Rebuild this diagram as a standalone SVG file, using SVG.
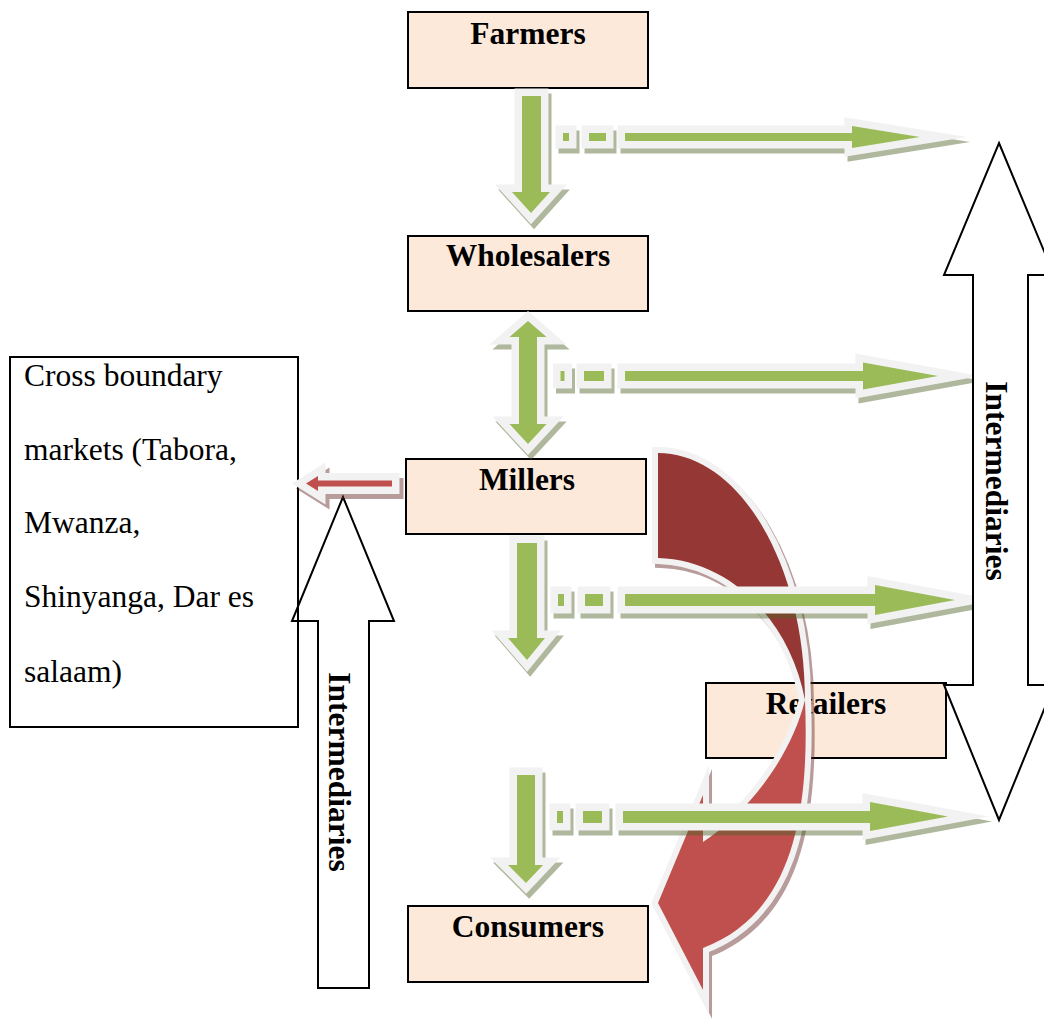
<svg xmlns="http://www.w3.org/2000/svg" width="1044" height="1021" viewBox="0 0 1044 1021">
<defs>
<style>
.node rect{fill:#FDE9D9;stroke:#000;stroke-width:2}
.lbl{font-family:"Liberation Serif","Times New Roman",serif;font-weight:bold;font-size:31.5px;fill:#000;text-anchor:middle}
.txt{font-family:"Liberation Serif","Times New Roman",serif;font-size:31.5px;fill:#000}
.big{stroke:#000;stroke-width:2;stroke-linejoin:miter}
.g{fill:#9BBB59;stroke:#F2F2F2;stroke-width:15;stroke-linejoin:miter;stroke-miterlimit:10;paint-order:stroke}
.gs{fill:#4F6228;stroke:#4F6228;stroke-width:15;stroke-linejoin:miter;stroke-miterlimit:10}
.rs{fill:#632523;stroke:#632523;stroke-width:12;stroke-linejoin:miter;stroke-miterlimit:5.5}
.rb{fill:#953735;stroke:#F2F2F2;stroke-width:12;stroke-linejoin:miter;stroke-miterlimit:5.5;paint-order:stroke}
.rf{fill:#C0504D;stroke:#F2F2F2;stroke-width:12;stroke-linejoin:miter;stroke-miterlimit:5.5;paint-order:stroke}
.sr{fill:#C0504D;stroke:#F2F2F2;stroke-width:15;stroke-linejoin:miter;stroke-miterlimit:10;paint-order:stroke}
.srs{fill:#632523;stroke:#632523;stroke-width:15;stroke-linejoin:miter;stroke-miterlimit:10}
</style>
<g id="greenShapes">
<path d="M522,96 H541 V192 H550 L531,213 L512,192 H522 Z"/>
<rect x="563" y="133" width="6" height="8"/>
<rect x="589" y="133" width="17" height="8"/>
<path d="M625,133 H852 V126 L920,137 L852,148 V141 H625 Z"/>
<path d="M528,321 L546.5,337 H537 V424 H546.5 L528,444 L509.5,424 H519 V337 H509.5 Z"/>
<rect x="560.5" y="371" width="4" height="10"/>
<rect x="584" y="371" width="20" height="10"/>
<path d="M625,371 H863 V362.5 L938,376 L863,389.5 V381 H625 Z"/>
<path d="M517,543 H537 V638 H545 L527,660 L508,638 H517 Z"/>
<rect x="558" y="594" width="6" height="12"/>
<rect x="585" y="594" width="18" height="12"/>
<path d="M625,594 H875 V585 L955,600 L875,615 V606 H625 Z"/>
<path d="M517,775 H535 V865 H543 L526,883 L508,865 H517 Z"/>
<rect x="557" y="811" width="6" height="12"/>
<rect x="583" y="811" width="19" height="12"/>
<path d="M623,811 H870 V802 L948,816.5 L870,831 V823 H623 Z"/>
</g>
<path id="backBand" d="M658,453 C739,453 805,564 805,700 C790,620 730,560 658,558 Z"/>
<path id="frontBand" d="M805,700 C810,820 790,915 703,948 L703,990 L658,903 L703,795 L703,842 C745,815 790,760 805,700 Z"/>
<path id="smallRed" d="M392,480.5 H318 V476 L306,483.5 L318,491 V486.5 H392 Z"/>
</defs>

<rect width="1044" height="1021" fill="#fff"/>

<g id="cross-boundary">
<rect x="10" y="357" width="288" height="370" fill="#fff" stroke="#000" stroke-width="2"/>
<text class="txt" x="24" y="386">Cross boundary</text>
<text class="txt" x="24" y="460">markets (Tabora,</text>
<text class="txt" x="24" y="533">Mwanza,</text>
<text class="txt" x="24" y="607">Shinyanga, Dar es</text>
<text class="txt" x="24" y="682">salaam)</text>
</g>

<g id="intermediaries-left">
<path class="big" fill="none" d="M343,497 L394,621 H369 V988 H318 V621 H292 Z"/>
<text class="lbl" transform="translate(329,772) rotate(90)">Intermediaries</text>
</g>

<g id="farmers" class="node">
<rect x="408" y="12" width="240" height="76"/>
<text class="lbl" x="528" y="44">Farmers</text>
</g>
<g id="wholesalers" class="node">
<rect x="408" y="236" width="240" height="75"/>
<text class="lbl" x="528" y="266">Wholesalers</text>
</g>
<g id="millers" class="node">
<rect x="406" y="459" width="240" height="75"/>
<text class="lbl" x="527" y="490">Millers</text>
</g>
<g id="consumers" class="node">
<rect x="408" y="906" width="240" height="76"/>
<text class="lbl" x="528" y="937">Consumers</text>
</g>
<g id="retailers" class="node">
<rect x="706" y="683" width="240" height="75"/>
<text class="lbl" x="826" y="714">Retailers</text>
</g>

<g id="connectors">
<g id="curved-red-arrow">
<use href="#backBand" class="rs" opacity="0.45" transform="translate(3,4)"/>
<use href="#frontBand" class="rs" opacity="0.45" transform="translate(3,4)"/>
<use href="#backBand" class="rb"/>
<use href="#frontBand" class="rf"/>
</g>
<g id="red-arrow-to-markets">
<use href="#smallRed" class="srs" opacity="0.45" transform="translate(4,5)"/>
<use href="#smallRed" class="sr"/>
</g>
<g id="green-arrows">
<use href="#greenShapes" class="gs" opacity="0.45" transform="translate(3,5)"/>
<use href="#greenShapes" class="g"/>
</g>
</g>

<g id="intermediaries-right">
<path class="big" fill="#fff" d="M999,143 L1054,275 H1028 V685 H1054 L999,820 L944,685 H973 V275 H944 Z"/>
<text class="lbl" transform="translate(986,481) rotate(90)">Intermediaries</text>
</g>
</svg>
